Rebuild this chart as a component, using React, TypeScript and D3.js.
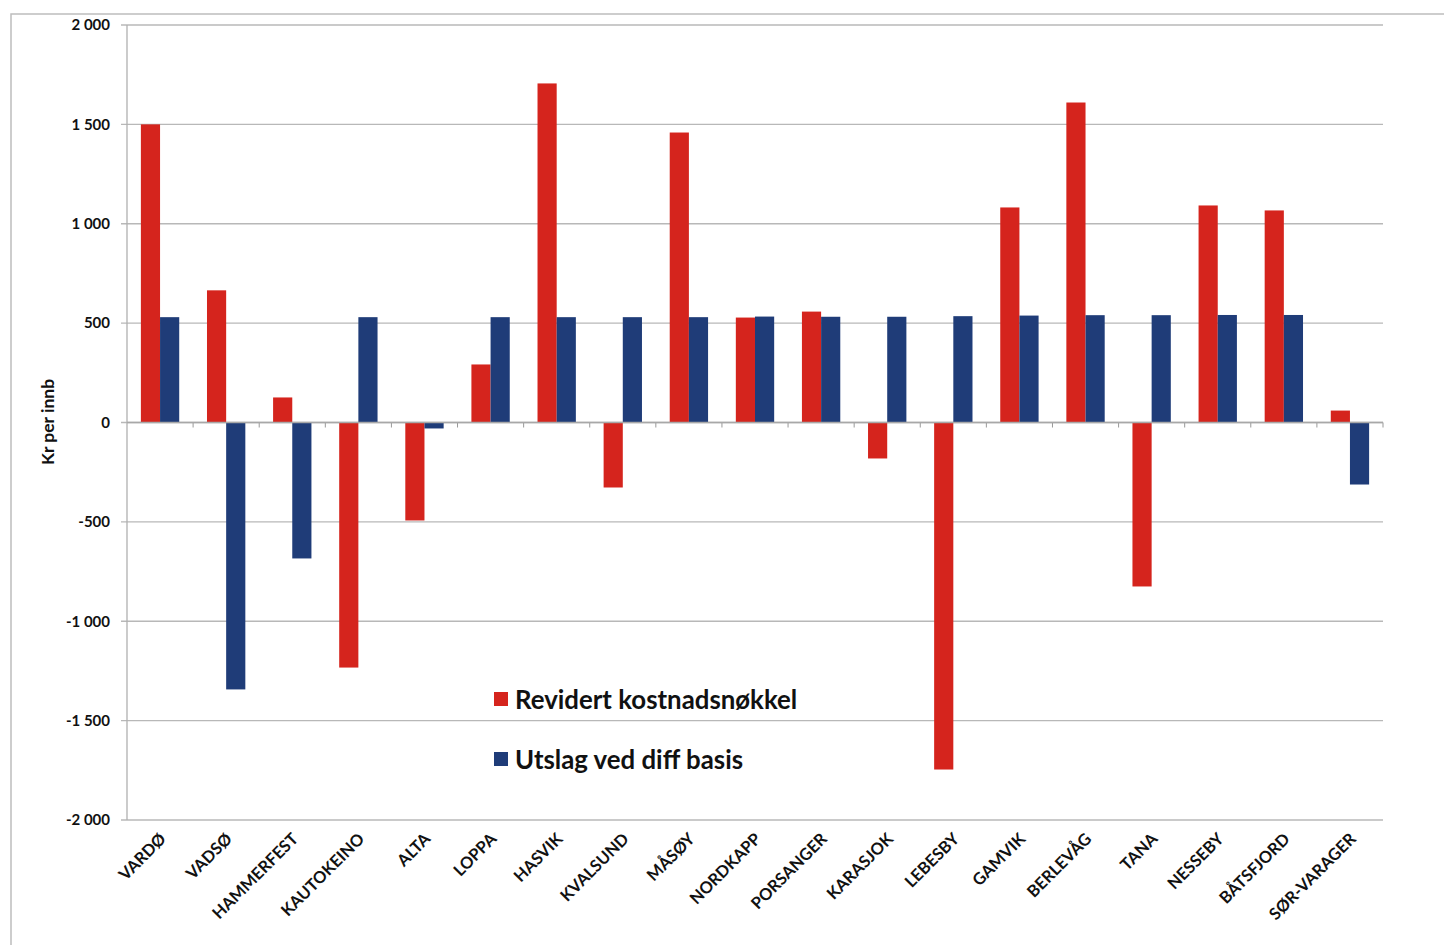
import React from "react";
import * as d3 from "d3";

const categories = ["VARDØ","VADSØ","HAMMERFEST","KAUTOKEINO","ALTA","LOPPA","HASVIK","KVALSUND","MÅSØY","NORDKAPP","PORSANGER","KARASJOK","LEBESBY","GAMVIK","BERLEVÅG","TANA","NESSEBY","BÅTSFJORD","SØR-VARAGER"];
const revidert = [1500, 665, 126, -1233, -493, 292, 1706, -327, 1459, 528, 558, -181, -1746, 1082, 1610, -825, 1092, 1067, 60];
const utslag = [530, -1343, -684, 530, -30, 530, 530, 530, 530, 533, 532, 532, 535, 538, 540, 540, 541, 541, -312];
const yTicks = [2000, 1500, 1000, 500, 0, -500, -1000, -1500, -2000];
const seriesNames = ["Revidert kostnadsnøkkel", "Utslag ved diff basis"];
const colors = ["#d5241d", "#1f3c78"];

const W = 1444, H = 945;
const left = 127, right = 1383, top = 25, bottom = 820;
const font = "Lato, 'Open Sans', sans-serif";

export default function App() {
  const x = d3.scaleBand<string>().domain(categories).range([left, right]).paddingInner(0.42).paddingOuter(0.21);
  const x0 = d3.scaleBand<string>().domain(categories).range([left, right]);
  const xs = d3.scaleBand<number>().domain([0, 1]).range([0, x.bandwidth()]);
  const y = d3.scaleLinear().domain([-2000, 2000]).range([bottom, top]);
  const fmt = (v: number) => (v < 0 ? "-" : "") + d3.format(",")(Math.abs(v)).replace(/,/g, " ");
  const series = [revidert, utslag];
  return (
    <svg width={W} height={H} style={{ position: "absolute", left: 0, top: 0, background: "#fff" }}>
      <rect x={11} y={14} width={W} height={H} fill="none" stroke="#bdbdbd" strokeWidth={1.5} />
      {yTicks.map((t) => (
        <g key={t}>
          <line x1={121} x2={right} y1={y(t)} y2={y(t)} stroke="#b8b8b8" strokeWidth={1.3} />
          <text x={110} y={y(t)} dy="0.35em" textAnchor="end" fontFamily={font} fontWeight={700} fontSize={15} fill="#111">
            {fmt(t)}
          </text>
        </g>
      ))}
      <line x1={left} x2={left} y1={top} y2={bottom} stroke="#b0b0b0" strokeWidth={1.3} />
      {series.map((vals, si) =>
        vals.map((v, i) => {
          const c = categories[i];
          const y1 = y(Math.max(0, v)), y2 = y(Math.min(0, v));
          return (
            <rect key={si + "-" + i} x={(x(c) ?? 0) + (xs(si) ?? 0)} y={y1} width={xs.bandwidth()} height={Math.max(1, y2 - y1)} fill={colors[si]} />
          );
        })
      )}
      {categories.map((c, i) => (
        <line key={"tk" + i} x1={(x0(c) ?? 0) + x0.bandwidth()} x2={(x0(c) ?? 0) + x0.bandwidth()} y1={y(0)} y2={y(0) + 5} stroke="#999" />
      ))}
      <line x1={left} x2={right} y1={y(0)} y2={y(0)} stroke="#a8a8a8" strokeWidth={1.3} />
      {categories.map((c) => {
        const cx = (x0(c) ?? 0) + x0.bandwidth() / 2 + 7;
        const cy = 840;
        return (
          <text key={"l" + c} x={cx} y={cy} transform={`rotate(-45 ${cx} ${cy})`} textAnchor="end" fontFamily={font} fontWeight={700} fontSize={16.5} fill="#111">
            {c}
          </text>
        );
      })}
      <text transform="translate(54 422) rotate(-90)" textAnchor="middle" fontFamily={font} fontWeight={700} fontSize={17.5} fill="#111">
        Kr per innb
      </text>
      {seriesNames.map((n, i) => (
        <g key={n}>
          <rect x={494} y={692 + i * 60} width={14} height={14} fill={colors[i]} />
          <text x={515} y={709 + i * 60} fontFamily={font} fontWeight={700} fontSize={25.8} fill="#111">
            {n}
          </text>
        </g>
      ))}
    </svg>
  );
}
